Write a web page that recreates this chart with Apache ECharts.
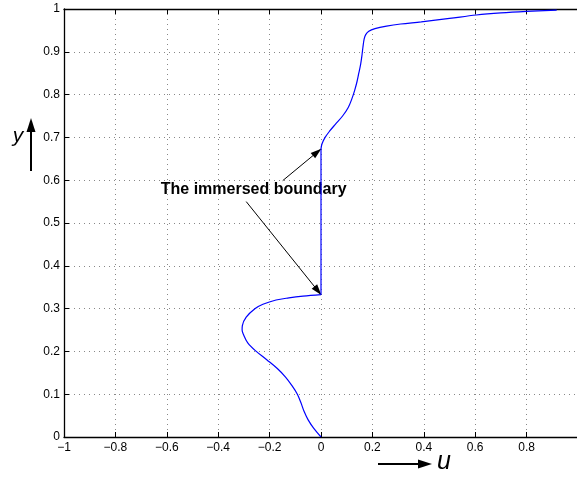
<!DOCTYPE html>
<html>
<head>
<meta charset="utf-8">
<script src="https://cdn.jsdelivr.net/npm/echarts@6/dist/echarts.min.js"></script>
<style>html,body{margin:0;padding:0;background:#fff;}#c{width:577px;height:479px;}</style>
</head>
<body>
<div id="c"></div>
<script>
// ---- data ----
// lower part of the profile (below the immersed boundary)
const lowerU = [0, -0.028, -0.05, -0.066, -0.078, -0.092, -0.113, -0.138, -0.17, -0.21, -0.252, -0.285, -0.302, -0.307, -0.306, -0.291, -0.256, -0.226, -0.175, -0.125, -0.07, 0];
const lowerY = [0, 0.02, 0.04, 0.06, 0.08, 0.1, 0.12, 0.14, 0.16, 0.18, 0.2, 0.22, 0.24, 0.25, 0.26, 0.28, 0.3, 0.31, 0.32, 0.325, 0.329, 0.3325];
// inside the immersed boundary
const wallU = [0, 0];
const wallY = [0.3325, 0.673];
// upper part of the profile
const upperU = [0, 0.004, 0.016, 0.034, 0.055, 0.084, 0.106, 0.12, 0.131, 0.14, 0.147, 0.154, 0.159, 0.163, 0.168, 0.174, 0.186, 0.21, 0.255, 0.31, 0.39, 0.5, 0.604, 0.7, 0.8, 0.917];
const upperY = [0.673, 0.685, 0.7, 0.715, 0.73, 0.75, 0.77, 0.79, 0.81, 0.83, 0.85, 0.87, 0.89, 0.91, 0.93, 0.94, 0.948, 0.954, 0.96, 0.965, 0.97, 0.978, 0.986, 0.991, 0.9945, 0.9975];
const xTicks = [-1, -0.8, -0.6, -0.4, -0.2, 0, 0.2, 0.4, 0.6, 0.8, 1];
const yTicks = [0, 0.1, 0.2, 0.3, 0.4, 0.5, 0.6, 0.7, 0.8, 0.9, 1];
const annotationText = 'The immersed boundary';
const annotationAt = [-0.262, 0.577];
const arrowStarts = [[-0.149, 0.599], [-0.291, 0.55]];
const arrowEnds = [[0, 0.673], [0, 0.3325]];
const xName = 'u';
const yName = 'y';

const chart = echarts.init(document.getElementById('c'), null, {renderer: 'canvas'});
const fmt = v => String(+v.toFixed(1)).replace('-', '\u2212');
const FONT = 'Liberation Sans, Arial, Helvetica, sans-serif';
const labelFont = {fontFamily: FONT, fontSize: 12, color: '#000'};
const dotted = {show: true, lineStyle: {color: '#888', width: 1, type: [1, 4]}};
const axisLine = {show: true, onZero: false, lineStyle: {color: '#000', width: 1.3}};
const tick = {show: true, inside: true, length: 5, lineStyle: {color: '#000', width: 1}};
const pairs = (us, ys) => us.map((u, i) => [u, ys[i]]);
const curveStyle = {color: '#0000ff', width: 1.2};

chart.setOption({
  animation: false,
  backgroundColor: '#fff',
  grid: {left: 64, top: 9, width: 514, height: 428, outerBoundsMode: 'none', containLabel: false},
  xAxis: [{
    type: 'value', min: xTicks[0], max: xTicks[xTicks.length - 1], interval: 0.2,
    position: 'bottom', axisLine, axisTick: tick, splitLine: dotted,
    axisLabel: Object.assign({margin: 5, formatter: v => (v >= 0.99 ? '' : fmt(v))}, labelFont)
  }, {
    type: 'value', min: xTicks[0], max: xTicks[xTicks.length - 1], interval: 0.2,
    position: 'top', axisLine, axisTick: tick, splitLine: {show: false}, axisLabel: {show: false}
  }],
  yAxis: [{
    type: 'value', min: yTicks[0], max: yTicks[yTicks.length - 1], interval: 0.1,
    position: 'left', axisLine, axisTick: tick, splitLine: dotted,
    axisLabel: Object.assign({margin: 4, formatter: v => fmt(v)}, labelFont)
  }],
  series: [{
    type: 'line', data: pairs(lowerU, lowerY), showSymbol: false, symbol: 'none',
    lineStyle: curveStyle, smooth: 0.35, z: 5
  }, {
    type: 'line', data: pairs(wallU, wallY), showSymbol: false, symbol: 'none',
    lineStyle: curveStyle, z: 5,
    markLine: {
      silent: true, animation: false,
      symbol: ['none', 'triangle'], symbolSize: [7, 11], symbolOffset: [0, [0, 5]],
      label: {show: false},
      lineStyle: {color: '#000', width: 1, type: 'solid'},
      data: arrowStarts.map((s, i) => [{coord: s}, {coord: arrowEnds[i]}])
    },
    markPoint: {
      silent: true, symbol: 'circle', symbolSize: 0,
      label: {show: true, position: 'inside', formatter: annotationText, color: '#000', fontWeight: 'bold', fontSize: 16, fontFamily: FONT},
      data: [{coord: annotationAt, value: 0}]
    }
  }, {
    type: 'line', data: pairs(upperU, upperY), showSymbol: false, symbol: 'none',
    lineStyle: curveStyle, smooth: 0.35, z: 5
  }],
  graphic: [
    // y axis arrow and name
    {type: 'line', shape: {x1: 31, y1: 171, x2: 31, y2: 130}, style: {stroke: '#000', lineWidth: 2}},
    {type: 'polygon', shape: {points: [[31, 118], [26.5, 132], [35.5, 132]]}, style: {fill: '#000'}},
    {type: 'text', x: 18, y: 136, style: {text: yName, font: 'italic 21px ' + FONT, fill: '#000', align: 'center', verticalAlign: 'middle'}},
    // u axis arrow and name
    {type: 'line', shape: {x1: 378, y1: 464, x2: 420, y2: 464}, style: {stroke: '#000', lineWidth: 2}},
    {type: 'polygon', shape: {points: [[432, 464], [418, 459.5], [418, 468.5]]}, style: {fill: '#000'}},
    {type: 'text', x: 444, y: 462, style: {text: xName, font: 'italic 25px ' + FONT, fill: '#000', align: 'center', verticalAlign: 'middle'}}
  ]
});
</script>
</body>
</html>
